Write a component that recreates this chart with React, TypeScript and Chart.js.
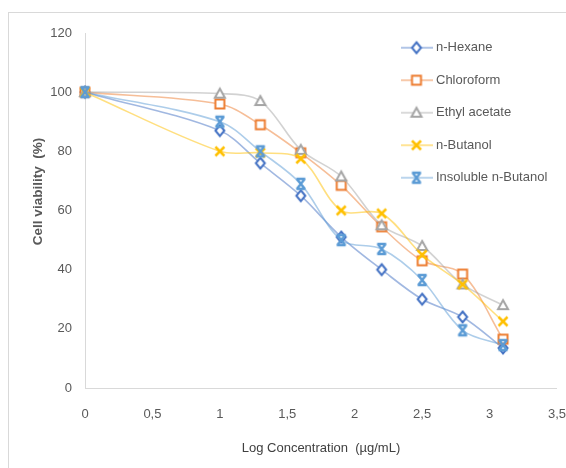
import React, { useEffect, useRef } from 'react';
import { Chart, registerables } from 'chart.js';

Chart.register(...registerables);

// ---- data ----
const logConcentration = [0, 1, 1.3, 1.6, 1.9, 2.2, 2.5, 2.8, 3.1];
const nHexane = [100, 87, 76, 65, 51, 40, 30, 24, 13.5];
const chloroform = [100, 96, 89, 79.5, 68.5, 54.5, 43, 38.5, 16.5];
const ethylAcetate = [100, 99.5, 97, 80.5, 71.5, 55, 48, 35, 28];
const nButanol = [100, 80, 79.5, 77.5, 60, 59, 45, 35, 22.5];
const insolubleNButanol = [100, 90, 80, 69, 50, 47, 36.5, 19.5, 14.5];

const seriesNames = ['n-Hexane', 'Chloroform', 'Ethyl acetate', 'n-Butanol', 'Insoluble n-Butanol'];
const seriesValues = [nHexane, chloroform, ethylAcetate, nButanol, insolubleNButanol];
const seriesColors = ['#4472C4', '#ED7D31', '#A5A5A5', '#FFC000', '#5B9BD5'];
const seriesMarkers = ['diamond', 'square', 'triangle', 'x', 'xbar'];

const xTickLabels = ['0', '0,5', '1', '1,5', '2', '2,5', '3', '3,5'];
const yTickLabels = ['0', '20', '40', '60', '80', '100', '120'];

const xTitle = 'Log Concentration  (µg/mL)';
const yTitle = 'Cell viability  (%)';

const FONT = "'Liberation Sans', Arial, sans-serif";
const TEXT_COLOR = '#595959';
const AXIS_COLOR = '#d9d9d9';

function withAlpha(hex: string, a: number) {
  const n = parseInt(hex.slice(1), 16);
  return `rgba(${(n >> 16) & 255},${(n >> 8) & 255},${n & 255},${a})`;
}

function drawMarker(ctx: CanvasRenderingContext2D, kind: string, cx: number, cy: number, color: string) {
  ctx.save();
  ctx.strokeStyle = color;
  ctx.fillStyle = '#ffffff';
  ctx.lineWidth = 2;
  ctx.beginPath();
  if (kind === 'diamond') {
    ctx.moveTo(cx, cy - 5.5);
    ctx.lineTo(cx + 4.5, cy);
    ctx.lineTo(cx, cy + 5.5);
    ctx.lineTo(cx - 4.5, cy);
    ctx.closePath();
    ctx.fill();
    ctx.stroke();
  } else if (kind === 'square') {
    ctx.rect(cx - 4.5, cy - 4.5, 9, 9);
    ctx.fill();
    ctx.stroke();
  } else if (kind === 'triangle') {
    ctx.moveTo(cx, cy - 5);
    ctx.lineTo(cx + 5, cy + 4);
    ctx.lineTo(cx - 5, cy + 4);
    ctx.closePath();
    ctx.fill();
    ctx.stroke();
  } else if (kind === 'x') {
    ctx.lineWidth = 2.5;
    ctx.moveTo(cx - 4.5, cy - 4.5);
    ctx.lineTo(cx + 4.5, cy + 4.5);
    ctx.moveTo(cx + 4.5, cy - 4.5);
    ctx.lineTo(cx - 4.5, cy + 4.5);
    ctx.stroke();
  } else {
    ctx.lineWidth = 2.4;
    ctx.moveTo(cx - 4, cy - 5);
    ctx.lineTo(cx + 4, cy + 5);
    ctx.moveTo(cx + 4, cy - 5);
    ctx.lineTo(cx - 4, cy + 5);
    ctx.moveTo(cx - 4.5, cy - 5);
    ctx.lineTo(cx + 4.5, cy - 5);
    ctx.moveTo(cx - 4.5, cy + 5);
    ctx.lineTo(cx + 4.5, cy + 5);
    ctx.stroke();
  }
  ctx.restore();
}

function makePointCanvas(kind: string, color: string) {
  const c = document.createElement('canvas');
  c.width = 16;
  c.height = 16;
  drawMarker(c.getContext('2d')!, kind, 8, 8, color);
  return c;
}

function makeLegendCanvas(kind: string, color: string) {
  const c = document.createElement('canvas');
  c.width = 32;
  c.height = 16;
  const ctx = c.getContext('2d')!;
  ctx.strokeStyle = withAlpha(color, 0.55);
  ctx.lineWidth = 1.5;
  ctx.beginPath();
  ctx.moveTo(0, 8);
  ctx.lineTo(32, 8);
  ctx.stroke();
  drawMarker(ctx, kind, 16, 8, color);
  return c;
}

const LEGEND_LEFT = 384;
const LEGEND_TOP = 21.7;
const Y_TITLE_SHIFT = 38;

const placementPlugin = {
  id: 'placement',
  afterLayout(chart: any) {
    const lg = chart.legend;
    if (lg) {
      const w = lg.width;
      lg.left = LEGEND_LEFT;
      lg.right = LEGEND_LEFT + w;
      lg.top = LEGEND_TOP;
      lg.bottom = LEGEND_TOP + 250;
    }
    const y = chart.scales.y;
    if (y) y.top = y.top - Y_TITLE_SHIFT;
  },
};

export default function App() {
  const ref = useRef<HTMLCanvasElement | null>(null);

  useEffect(() => {
    if (!ref.current) return;
    const pointIcons = seriesMarkers.map((m, i) => makePointCanvas(m, seriesColors[i]));
    const legendIcons = seriesMarkers.map((m, i) => makeLegendCanvas(m, seriesColors[i]));

    const datasets = seriesNames.map((name, i) => ({
      label: name,
      data: logConcentration.map((x, j) => ({ x, y: seriesValues[i][j] })),
      borderColor: withAlpha(seriesColors[i], 0.5),
      backgroundColor: seriesColors[i],
      borderWidth: 1.6,
      tension: 0.33,
      pointStyle: pointIcons[i],
      pointRadius: 5,
      clip: false,
      order: seriesNames.length - i,
    }));

    const chart = new Chart(ref.current, {
      type: 'line',
      data: { datasets },
      plugins: [placementPlugin],
      options: {
        responsive: false,
        animation: false,
        layout: { padding: { left: 0, right: 9, top: 33, bottom: 0 } },
        plugins: {
          tooltip: { enabled: false },
          legend: {
            position: 'chartArea',
            align: 'start',
            labels: {
              usePointStyle: true,
              pointStyleWidth: 26,
              padding: 19.5,
              color: TEXT_COLOR,
              font: { family: FONT, size: 13 },
              generateLabels: (c: any) => {
                const items = (Chart as any).defaults.plugins.legend.labels.generateLabels(c);
                return items.map((it: any) => ({ ...it, pointStyle: legendIcons[it.datasetIndex] }));
              },
              sort: (a: any, b: any) => a.datasetIndex - b.datasetIndex,
            },
          },
        },
        scales: {
          x: {
            type: 'linear',
            min: 0,
            max: 3.5,
            afterFit: (s: any) => {
              s.height = 80;
              s.paddingLeft = 0;
              s.paddingRight = 0;
            },
            border: { display: false },
            grid: {
              drawTicks: false,
              lineWidth: 1,
              color: (ctx: any) => (ctx.tick && ctx.tick.value === 0 ? AXIS_COLOR : 'rgba(0,0,0,0)'),
            },
            ticks: {
              stepSize: 0.5,
              padding: 19,
              color: TEXT_COLOR,
              font: { family: FONT, size: 13 },
              callback: (_v: any, i: number) => xTickLabels[i],
            },
            title: {
              display: true,
              text: xTitle,
              color: '#404040',
              font: { family: FONT, size: 13 },
              padding: { top: 0, bottom: 12 },
            },
          },
          y: {
            type: 'linear',
            min: 0,
            max: 120,
            afterFit: (s: any) => { s.width = 85; },
            border: { display: false },
            grid: {
              drawTicks: false,
              lineWidth: 1,
              color: (ctx: any) => (ctx.tick && ctx.tick.value === 0 ? AXIS_COLOR : 'rgba(0,0,0,0)'),
            },
            ticks: {
              stepSize: 20,
              padding: 13,
              color: TEXT_COLOR,
              font: { family: FONT, size: 13 },
              callback: (_v: any, i: number) => yTickLabels[i],
            },
            title: {
              display: true,
              text: yTitle,
              color: TEXT_COLOR,
              font: { family: FONT, size: 13.5, weight: 'bold' },
              padding: { top: 30, bottom: 0 },
            },
          },
        },
      },
    } as any);

    return () => chart.destroy();
  }, []);

  return (
    <>
      <div
        style={{
          position: 'fixed',
          left: 8,
          top: 12,
          width: 558,
          height: 456,
          boxSizing: 'border-box',
          borderLeft: `1px solid ${AXIS_COLOR}`,
          borderTop: `1px solid ${AXIS_COLOR}`,
          pointerEvents: 'none',
        }}
      />
      <div style={{ position: 'fixed', left: 0, top: 0, width: 566, height: 468 }}>
        <canvas ref={ref} width={566} height={468} style={{ display: 'block', width: 566, height: 468 }} />
      </div>
    </>
  );
}
